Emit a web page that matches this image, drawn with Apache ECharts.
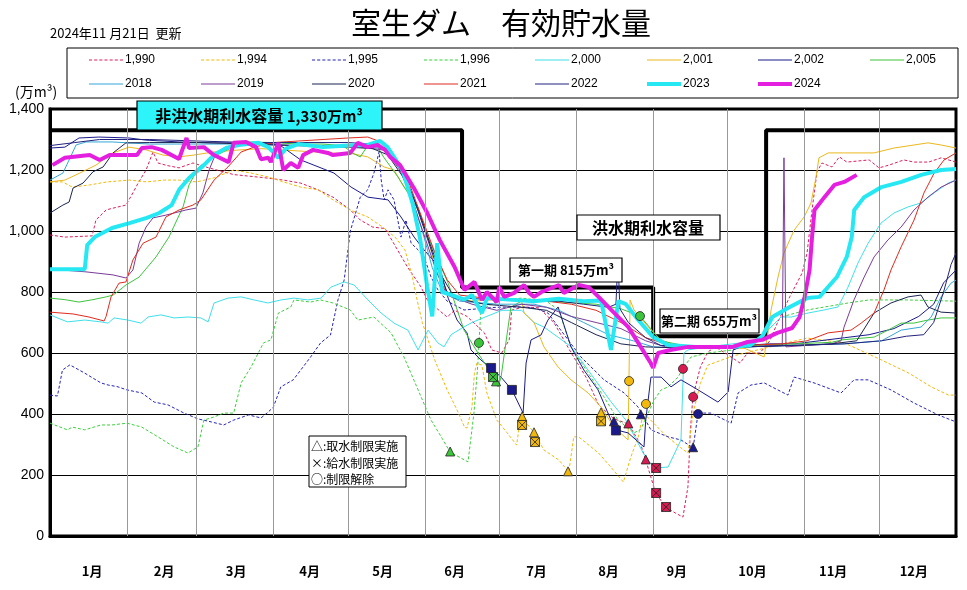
<!DOCTYPE html>
<html><head><meta charset="utf-8">
<script src="https://cdn.jsdelivr.net/npm/echarts@6/dist/echarts.min.js"></script>
<style>html,body{margin:0;padding:0;background:#fff}#c{width:967px;height:590px}</style>
</head><body><div id="c"></div>
<script>
// ---- axis / label data ----
const monthLabels = ['1月','2月','3月','4月','5月','6月','7月','8月','9月','10月','11月','12月'];
const monthLabelDays = [17, 46, 75, 104.6, 134, 163, 196, 225, 252.5, 283, 315.5, 348];
const monthEnds = [31, 59, 90, 120, 151, 181, 212, 243, 273, 304, 334];
const yTicks = [0, 200, 400, 600, 800, 1000, 1200, 1400];

// capacity (利水容量) step line: [day, 万m3]
const capacityLine = [[0,1330],[166,1330],[166,815],[243,815],[243,655],[288.5,655],[288.5,1330],[365,1330]];

// ---- series data: [day of year, 万m3] ----
const y1990 = [[0,987],[6,980],[17,984],[18.5,1036],[22.6,1069],[25.4,1075],[30.6,1085],[33.4,1125],[35.5,1157],[38.7,1200],[41.5,1259],[43.5,1223],[47,1215],[52,1207],[57.6,1223],[64,1207],[74,1185],[86,1175],[94,1167],[101,1157],[108,1135],[114,1111],[121,1069],[125,1036],[130,1013],[135,1008],[140,938],[144,882],[149.5,816],[152,774],[156,745],[160,718],[163,740],[168,720],[175,666],[178,610],[182,600],[185,643],[186,741],[191,751],[197,748],[203,700],[210,600],[216,520],[221,430],[227,385],[233,367],[238,300],[240,249],[244,141],[248,95],[252,75],[255,62],[257,161],[258,348],[259,456],[262,554],[265,603],[268,620],[272,600],[278,567],[281,600],[286,600],[290,640],[293,698],[298,784],[303,862],[305,928],[307,1069],[309,1194],[311,1223],[315,1210],[318,1243],[321,1226],[330,1233],[334,1207],[338,1216],[344,1233],[348,1226],[354,1226],[359,1240],[365,1226]];
const y1994 = [[0,1161],[5,1161],[9,1144],[16,1151],[23,1161],[32,1167],[39,1161],[46,1167],[52,1167],[59,1161],[66,1174],[74,1200],[81,1190],[88,1177],[94,1161],[101,1144],[108,1135],[114,1102],[121,1069],[128,1046],[134,1013],[139,980],[143,938],[146,850],[148,770],[150,700],[155,577],[160,479],[164,413],[167,357],[168,354],[170,423],[171,534],[172,567],[174,560],[176,469],[180,380],[184,340],[188,298],[189,357],[190,390],[192,370],[195,338],[199,282],[205,249],[209,210],[211,325],[213,325],[221,272],[227,216],[231,177],[234,259],[237,325],[239,403],[242,380],[248,330],[254,290],[257,272],[259,400],[262,500],[265,560],[275,590],[290,620],[305,649],[320,633],[335,577],[346,534],[355,489],[362,462],[365,462]];
const y1995 = [[0,462],[3,459],[5,544],[8,561],[14,534],[20.5,502],[23.4,495],[27,490],[31,479],[37,469],[42,439],[47.5,430],[54,403],[59.6,384],[65,374],[70,364],[74,380],[80,397],[85,387],[88,407],[90,423],[93,489],[98,512],[101,544],[105,587],[109,633],[113,659],[116,774],[118.5,839],[121,1000],[125,1111],[128,1135],[130.5,1190],[132.6,1260],[133.4,1170],[134.6,1102],[136.2,1135],[138.6,1102],[141.4,980],[143.4,1036],[145.5,960],[148.3,938],[150.7,915],[153.5,849],[156.3,807],[160,770],[166.8,741],[180,750],[191,751],[196,745],[200.6,731],[213.9,587],[223.2,512],[231.3,469],[236.9,423],[242.1,348],[249,325],[254.2,315],[259.1,289],[261.1,403],[266.3,403],[274.4,370],[277.2,469],[282.4,495],[287.7,502],[297.3,462],[299.8,521],[307.8,502],[318.7,469],[323.9,512],[329.6,512],[338.8,479],[348.1,436],[357.8,397],[365,374]];
const y1996 = [[0,370],[7,348],[9,357],[14,348],[20.5,364],[25,364],[31,370],[37,357],[43.5,325],[50,292],[55.6,272],[59.6,292],[62,380],[66,390],[70,403],[74,403],[77,502],[81,554],[86,633],[89,643],[92,731],[97,751],[98.3,774],[105,767],[109,774],[114,764],[121,741],[124,708],[130.5,718],[137.4,666],[142.6,587],[148.3,479],[153.5,380],[158,320],[161.2,275],[168.4,243],[170.8,403],[172.4,567],[172.8,633],[173.6,741],[180,770],[190,780],[200,770],[205,740],[209.9,620],[216.8,534],[223.2,456],[228.8,380],[235.3,338],[238,350],[243.4,446],[246.2,479],[249,489],[253,521],[255.4,554],[258.3,587],[265,600],[275,610],[285,640],[294.5,718],[305,741],[315,755],[321.5,764],[330,774],[345,774],[365,770]];
const y2000 = [[0,725],[7,702],[14,708],[20.5,702],[23.4,698],[25.8,715],[31.4,708],[36.7,698],[39.5,718],[44.7,725],[50,715],[55.6,718],[60.8,715],[63.7,702],[66.1,764],[71.7,780],[77,784],[82.2,774],[87.8,764],[93.1,774],[98.3,780],[103.9,774],[109.2,780],[113.2,816],[118.5,833],[122.5,823],[128.1,774],[133.4,731],[138.6,698],[144.2,675],[148.3,610],[152.3,675],[156.3,633],[158.7,620],[161.6,660],[165.6,680],[170,700],[176,720],[182,740],[190,740],[195,700],[199,685],[205,650],[210,620],[218,530],[226,440],[232,380],[239,272],[243.4,223],[249,226],[254.2,315],[255.4,600],[257,610],[265,620],[275,630],[285,640],[294.5,718],[298.6,718],[305.4,731],[311.8,741],[317.5,751],[321.5,816],[325.5,895],[329.6,960],[334.8,1026],[340,1059],[345.7,1079],[350.9,1092],[356.2,1125],[361.8,1157],[365,1167]];
const y2001 = [[0,1161],[6,1167],[12,1190],[18.5,1216],[25.4,1256],[31.8,1275],[38.7,1266],[45.5,1249],[52,1243],[58,1249],[65.7,1259],[75,1265],[85,1270],[95,1265],[105,1260],[115,1255],[121,1255],[128,1243],[134.6,1210],[138.6,1200],[142.6,1144],[146.7,1102],[149.5,1046],[152.3,980],[154.7,895],[157.5,829],[161.6,784],[170,770],[180,775],[190,770],[191,731],[195,700],[199,620],[204.7,554],[209.9,512],[216.8,469],[222,423],[227.2,357],[232.9,315],[233.7,774],[235.3,741],[242.1,675],[246.2,643],[252,625],[265,620],[280,615],[287.7,587],[290.5,741],[293.3,849],[295.7,928],[299.8,1003],[303.8,1046],[306.6,1092],[308.6,1177],[309.8,1240],[313.5,1256],[320,1256],[332,1256],[340,1272],[348.1,1282],[353.7,1289],[359,1282],[365,1272]];
const y2002 = [[0,1272],[6,1275],[11.7,1305],[19.7,1308],[31.8,1305],[38.7,1298],[52,1292],[65.7,1289],[80,1289],[92,1285],[101,1233],[114.4,1190],[121.3,1144],[128.1,1111],[136.2,1102],[141.4,1046],[146.7,980],[150.7,938],[157,880],[160.4,780],[164,708],[168,666],[169.6,610],[173.6,577],[177.7,551],[181.7,521],[186.1,479],[190.6,403],[191.8,567],[193.8,643],[197.8,659],[200.6,708],[204.7,751],[209.9,620],[215.1,544],[220.8,479],[226,380],[228,348],[232.9,338],[239.3,292],[240,380],[242.1,521],[246.2,521],[250.2,489],[254.2,512],[261.1,479],[269.1,439],[273.2,472],[275.2,610],[280,625],[290,630],[300,630],[310,640],[320,650],[330,660],[340,680],[350,720],[356,760],[360,830],[365,872]];
const y2005 = [[0,780],[6,775],[11.7,767],[17.3,775],[22.6,784],[25.4,790],[26.6,797],[30.6,823],[35.9,849],[42.7,915],[47.9,980],[53.6,1079],[56,1151],[60,1210],[65.7,1243],[73.7,1275],[79,1292],[90,1290],[100,1285],[110,1285],[118,1280],[122,1255],[125,1243],[128,1280],[132,1275],[134.6,1240],[140.2,1177],[144.2,1125],[148.3,1069],[152.3,980],[156.3,905],[160.4,829],[166.8,675],[172.4,600],[177.7,534],[180.5,489],[181.7,520],[185.7,751],[190,770],[200,770],[210,765],[220,760],[230,745],[237.7,721],[242,680],[246,640],[255,625],[270,620],[285,625],[300,630],[315,635],[319,643],[332,652],[337.6,675],[342.9,698],[348,698],[353.7,708],[359,715],[365,715]];
const y2018 = [[0,1167],[5.2,1190],[7.7,1233],[10.5,1282],[14.5,1292],[25,1292],[40,1285],[60,1285],[80,1285],[100,1280],[120,1280],[135,1270],[140,1220],[145,1130],[150,1000],[154,880],[158,800],[165,770],[180,760],[195,760],[205,740],[215,700],[225,660],[235,640],[243,620],[260,615],[280,620],[300,625],[320,630],[335,640],[342.9,675],[350.9,685],[355,718],[359,784],[363,829],[365,839]];
const y2019 = [[0,875],[14.5,866],[25.4,856],[30.6,846],[33.4,872],[35.9,960],[38.7,1013],[41.5,1043],[46.7,1052],[54.8,1069],[58.8,1075],[61.6,1125],[64.1,1200],[66.9,1256],[70.9,1275],[80,1285],[100,1280],[120,1280],[135,1265],[141,1200],[146,1100],[151,980],[156,860],[160,790],[170,760],[180,740],[190,760],[200,750],[210,720],[220,700],[230,680],[240,640],[248,620],[260,620],[280,620],[295,625],[295.7,1240],[296.5,620],[305,625],[315,630],[318.7,640],[319.9,685],[323.9,774],[328,849],[332,915],[337.6,971],[342.9,1013],[348.1,1069],[353.7,1111],[359,1144],[365,1167]];
const y2020 = [[0,1059],[5.2,1085],[7.7,1095],[9.3,1141],[13.3,1157],[17.3,1194],[21.4,1210],[25.4,1256],[30.6,1289],[40,1290],[60,1290],[80,1285],[100,1280],[120,1275],[130,1270],[136,1250],[142,1180],[148,1080],[153,960],[158,850],[163,780],[175,760],[190,750],[200,740],[210,700],[220,660],[230,630],[240,620],[260,615],[280,620],[300,625],[315,630],[325,640],[332,731],[338.8,764],[345.7,784],[350.9,790],[353.7,751],[359,734],[365,731]];
const y2021 = [[0,734],[9.3,728],[15.7,718],[21.8,705],[22.6,720],[24.6,784],[27.8,829],[30.6,833],[33.4,905],[37.5,960],[42.7,980],[46.7,1046],[52,1069],[57.6,1085],[60.8,1102],[66.1,1167],[71.7,1210],[77,1259],[82.2,1275],[90,1290],[100,1295],[110,1300],[120,1305],[128,1308],[134,1290],[140,1230],[145,1150],[150,1040],[155,930],[160,840],[165,790],[175,780],[190,775],[200,770],[210,760],[220,740],[230,700],[240,650],[250,625],[265,620],[280,625],[295,630],[305,640],[313.5,666],[322.7,675],[326.8,698],[332,731],[336,807],[338.8,872],[342.9,948],[348.1,1036],[352.1,1125],[356.2,1190],[360.2,1233],[365,1256]];
const y2022 = [[0,1280],[10,1290],[20,1300],[40,1300],[60,1295],[80,1290],[100,1290],[120,1290],[130,1285],[136,1270],[141,1210],[146,1120],[151,1000],[156,880],[160,800],[165,780],[180,775],[195,770],[205,770],[215,760],[225,750],[228,760],[228.8,910],[229.6,745],[233,700],[240,650],[246,625],[260,620],[280,620],[300,625],[320,630],[335,640],[345,655],[352,660],[356,700],[360,800],[363,890],[365,928]];
const y2023 = [[0,875],[14,875],[15,954],[18,980],[25,1010],[32,1026],[39,1043],[44,1059],[49,1085],[52,1135],[56,1174],[62,1216],[66,1249],[71,1272],[76,1282],[84,1289],[88,1275],[92,1240],[95,1270],[100,1285],[110,1275],[120,1280],[128,1282],[133,1295],[136,1275],[142,1200],[146,1092],[149,980],[152,816],[154,720],[156,960],[158,800],[162,790],[167,775],[170,790],[174,731],[176,780],[185,775],[195,770],[205,778],[215,770],[222,772],[226,610],[229,770],[232,760],[237,708],[243,652],[249,626],[260,620],[275,620],[282,625],[287,655],[291,718],[298,751],[305,780],[310,784],[317,849],[321,915],[323,980],[324,1069],[328,1111],[335,1144],[343,1161],[351,1184],[359,1200],[365,1203]];
const y2024 = [[1,1216],[6,1240],[16,1249],[20,1233],[24,1249],[35,1249],[37,1272],[41,1275],[45,1266],[52,1236],[55,1305],[56,1272],[62,1275],[66,1249],[72,1226],[74,1289],[79,1292],[83,1275],[85,1235],[88,1240],[89,1226],[92,1289],[94,1200],[97,1223],[100,1207],[102,1249],[106,1266],[112,1256],[114,1249],[121,1256],[124,1289],[128,1275],[132,1282],[135,1266],[137,1243],[141,1216],[147,1135],[152,1059],[157,971],[163,882],[167,807],[171,833],[174,774],[176,800],[180,767],[181,816],[183,784],[187,797],[191,823],[193,797],[195,784],[198,800],[205,823],[207,797],[213,823],[217,816],[221,784],[227,734],[233,685],[238,620],[242,567],[243,551],[245,600],[250,610],[257,620],[267,620],[275,620],[281,636],[287,643],[293,666],[299,682],[302,718],[304,784],[306,872],[307,980],[308,1069],[312,1111],[316,1151],[320,1161],[325,1184]];

// ---- restriction markers: [day, 万m3] ----
const triGreen = [[161.2,277],[179.7,507]];
const triGold = [[190.2,392],[195,340],[208.7,212],[222,405]];
const triNavy = [[227.2,376],[238,399],[259.1,291]];
const triCrimson = [[233,369],[240,251]];
const xsqGold = [[190.2,364],[195.4,308],[222,376]];
const xsqGreen = [[178.5,521]];
const xsqCrimson = [[244.2,223],[244.2,141],[248.2,95]];
const circGreen = [[172.8,633],[237.7,721]];
const circGold = [[233.3,508],[240.1,433]];
const circCrimson = [[255,548],[259.1,456]];
const circNavy = [[261.1,400]];
const sqNavy = [[177.7,551],[186.1,479],[228,346]];

const seriesNames = ['1,990','1,994','1,995','1,996','2,000','2,001','2,002','2,005','2018','2019','2020','2021','2022','2023','2024'];
const seriesData = [y1990,y1994,y1995,y1996,y2000,y2001,y2002,y2005,y2018,y2019,y2020,y2021,y2022,y2023,y2024];
const seriesColors = ['#DC1F5C','#F2B90A','#2424B8','#3CD03C','#3FE0EA','#EBB81E','#1A1A8C','#3CC43C','#35A8D8','#7A3C98','#1B2550','#E02A1E','#22237E','#25E8F2','#E51FE0'];
const seriesDashed = [true,true,true,true,false,false,false,false,false,false,false,false,false,false,false];
const seriesWidths = [1,1,1,1,1,1,1,1,1,1,1,1,1,4,4];

const F = '"Liberation Sans", Arial, sans-serif';
const FJ = '"Noto Sans CJK JP", sans-serif';

const chart = echarts.init(document.getElementById('c'), null, {renderer:'canvas'});

// legend icons: dashed / solid / thick line drawn as filled paths
const iconDashed = 'path://M0,0h3v1h-3zM5,0h3v1h-3zM10,0h3v1h-3zM15,0h3v1h-3zM20,0h3v1h-3zM25,0h3v1h-3zM30,0h3v1h-3z';
const iconSolid = 'path://M0,0h33v1h-33z';
const iconThick = 'path://M0,0h33v4h-33z';

const colX = [89, 201, 312, 424, 535, 647, 758, 870];
const legends = seriesNames.map((n, i) => ({
  data: [n], left: colX[i < 8 ? i : i - 8], top: i < 8 ? 54 : 78,
  padding: 0, itemWidth: 34, itemHeight: 14, itemGap: 0, selectedMode: false,
  icon: seriesDashed[i] ? iconDashed : (seriesWidths[i] > 1 ? iconThick : iconSolid),
  itemStyle: {borderWidth: 0},
  textStyle: {fontSize: 12, fontFamily: F, color: '#000', padding: [0,0,0,-3]}
}));

const lineSeries = seriesNames.map((n, i) => ({
  name: n, type: 'line', data: seriesData[i], symbol: 'none', silent: true,
  lineStyle: {color: seriesColors[i], width: seriesWidths[i], type: seriesDashed[i] ? [3, 2] : 'solid'},
  itemStyle: {color: seriesColors[i]}, z: 3
}));

const xsqPath = 'path://M0,0L10,0L10,10L0,10ZM0,0L10,10M10,0L0,10';
const markerSets = [
  {data: triGreen, symbol: 'triangle', color: '#3CC43C'},
  {data: triGold, symbol: 'triangle', color: '#F2B90A'},
  {data: triNavy, symbol: 'triangle', color: '#1A1A8C'},
  {data: triCrimson, symbol: 'triangle', color: '#D81B50'},
  {data: xsqGold, symbol: xsqPath, color: '#F2B90A'},
  {data: xsqGreen, symbol: xsqPath, color: '#3CC43C'},
  {data: xsqCrimson, symbol: xsqPath, color: '#D81B50'},
  {data: circGreen, symbol: 'circle', color: '#3CC43C'},
  {data: circGold, symbol: 'circle', color: '#F2B90A'},
  {data: circCrimson, symbol: 'circle', color: '#D81B50'},
  {data: circNavy, symbol: 'circle', color: '#1A1A8C'},
  {data: sqNavy, symbol: 'rect', color: '#1A1A8C'}
];
const markerSeries = markerSets.map(m => ({
  type: 'scatter', data: m.data, symbol: m.symbol, symbolSize: 9, silent: true, z: 5,
  itemStyle: {color: m.color, borderColor: '#222', borderWidth: 0.8, opacity: 1}
}));

const option = {
  animation: false,
  backgroundColor: '#fff',
  title: {text: '室生ダム　有効貯水量', left: 351, top: 8, padding: 0,
    textStyle: {fontSize: 30, fontWeight: 'normal', fontFamily: FJ, color: '#000'}},
  legend: legends,
  grid: {left: 50, right: 11, top: 109, bottom: 54, show: true, borderColor: '#000', borderWidth: 3, containLabel: false},
  xAxis: {type: 'value', min: 0, max: 365,
    axisLine: {lineStyle: {color: '#000', width: 3}},
    axisTick: {show: false}, splitLine: {show: false},
    axisLabel: {customValues: monthLabelDays, formatter: v => monthLabels[monthLabelDays.indexOf(v)] || '',
      margin: 29, fontSize: 13, fontWeight: 'bold', color: '#000', fontFamily: FJ}},
  yAxis: {type: 'value', min: yTicks[0], max: yTicks[yTicks.length-1], interval: 200,
    axisLine: {show: true, lineStyle: {color: '#000', width: 3}},
    axisTick: {show: false},
    splitLine: {lineStyle: {color: '#000', width: 1}},
    axisLabel: {formatter: v => v.toLocaleString('en-US'), fontSize: 14, color: '#000', fontFamily: F, margin: 6}},
  series: [
    {type: 'line', data: [], silent: true, z: 1,
      markLine: {silent: true, symbol: 'none', label: {show: false},
        lineStyle: {color: '#999', width: 1, type: 'solid'},
        data: monthEnds.map(d => ({xAxis: d}))}},
    {type: 'line', data: capacityLine, symbol: 'none', silent: true, z: 2,
      lineStyle: {color: '#000', width: 4}}
  ].concat(lineSeries, markerSeries),
  graphic: [
    {type: 'rect', z: 0, shape: {x: 67, y: 48, width: 891, height: 50}, style: {fill: 'none', stroke: '#000', lineWidth: 1}},
    {type: 'text', x: 50, y: 33, style: {text: '2024年11 月21日  更新', fontSize: 13, fontFamily: FJ, fill: '#000', textVerticalAlign: 'middle'}},
    {type: 'text', x: 15, y: 92, style: {text: '(万m³)', fontSize: 14, fontFamily: FJ, fill: '#000', textVerticalAlign: 'middle'}},
    {type: 'rect', z: 10, shape: {x: 137, y: 101, width: 245, height: 29}, style: {fill: '#2CF4F8', stroke: '#000', lineWidth: 1.2}},
    {type: 'text', z: 11, x: 259, y: 116, style: {text: '{a|非洪水期利水容量 }{b|1,330万m³}',
      textAlign: 'center', textVerticalAlign: 'middle',
      rich: {a: {fontSize: 16, fontFamily: FJ, fill: '#000', fontWeight: 'bold'}, b: {fontSize: 15, fontFamily: FJ, fill: '#000', fontWeight: 'bold'}}}},
    {type: 'rect', z: 10, shape: {x: 577, y: 215, width: 143, height: 25}, style: {fill: '#fff', stroke: '#000', lineWidth: 1.2}},
    {type: 'text', z: 11, x: 648, y: 228, style: {text: '洪水期利水容量', fontSize: 16, fontWeight: 'bold', fontFamily: FJ, fill: '#000', textAlign: 'center', textVerticalAlign: 'middle'}},
    {type: 'rect', z: 10, shape: {x: 510, y: 258, width: 112, height: 24}, style: {fill: '#fff', stroke: '#000', lineWidth: 1.2}},
    {type: 'text', z: 11, x: 566, y: 270, style: {text: '第一期 815万m³', fontSize: 13, fontWeight: 'bold', fontFamily: FJ, fill: '#000', textAlign: 'center', textVerticalAlign: 'middle'}},
    {type: 'rect', z: 10, shape: {x: 660, y: 309, width: 99, height: 24}, style: {fill: '#fff', stroke: '#000', lineWidth: 1.2}},
    {type: 'text', z: 11, x: 709, y: 321, style: {text: '第二期 655万m³', fontSize: 13, fontWeight: 'bold', fontFamily: FJ, fill: '#000', textAlign: 'center', textVerticalAlign: 'middle'}},
    {type: 'rect', z: 10, shape: {x: 309, y: 436, width: 97, height: 51}, style: {fill: '#fff', stroke: '#000', lineWidth: 1}},
    {type: 'text', z: 11, x: 311, y: 446, style: {text: '△:取水制限実施', fontSize: 12, fontFamily: FJ, fill: '#000', textVerticalAlign: 'middle'}},
    {type: 'text', z: 11, x: 311, y: 463, style: {text: '×:給水制限実施', fontSize: 12, fontFamily: FJ, fill: '#000', textVerticalAlign: 'middle'}},
    {type: 'text', z: 11, x: 311, y: 479, style: {text: '○:制限解除', fontSize: 12, fontFamily: FJ, fill: '#000', textVerticalAlign: 'middle'}}
  ]
};
chart.setOption(option);
</script>
</body></html>
